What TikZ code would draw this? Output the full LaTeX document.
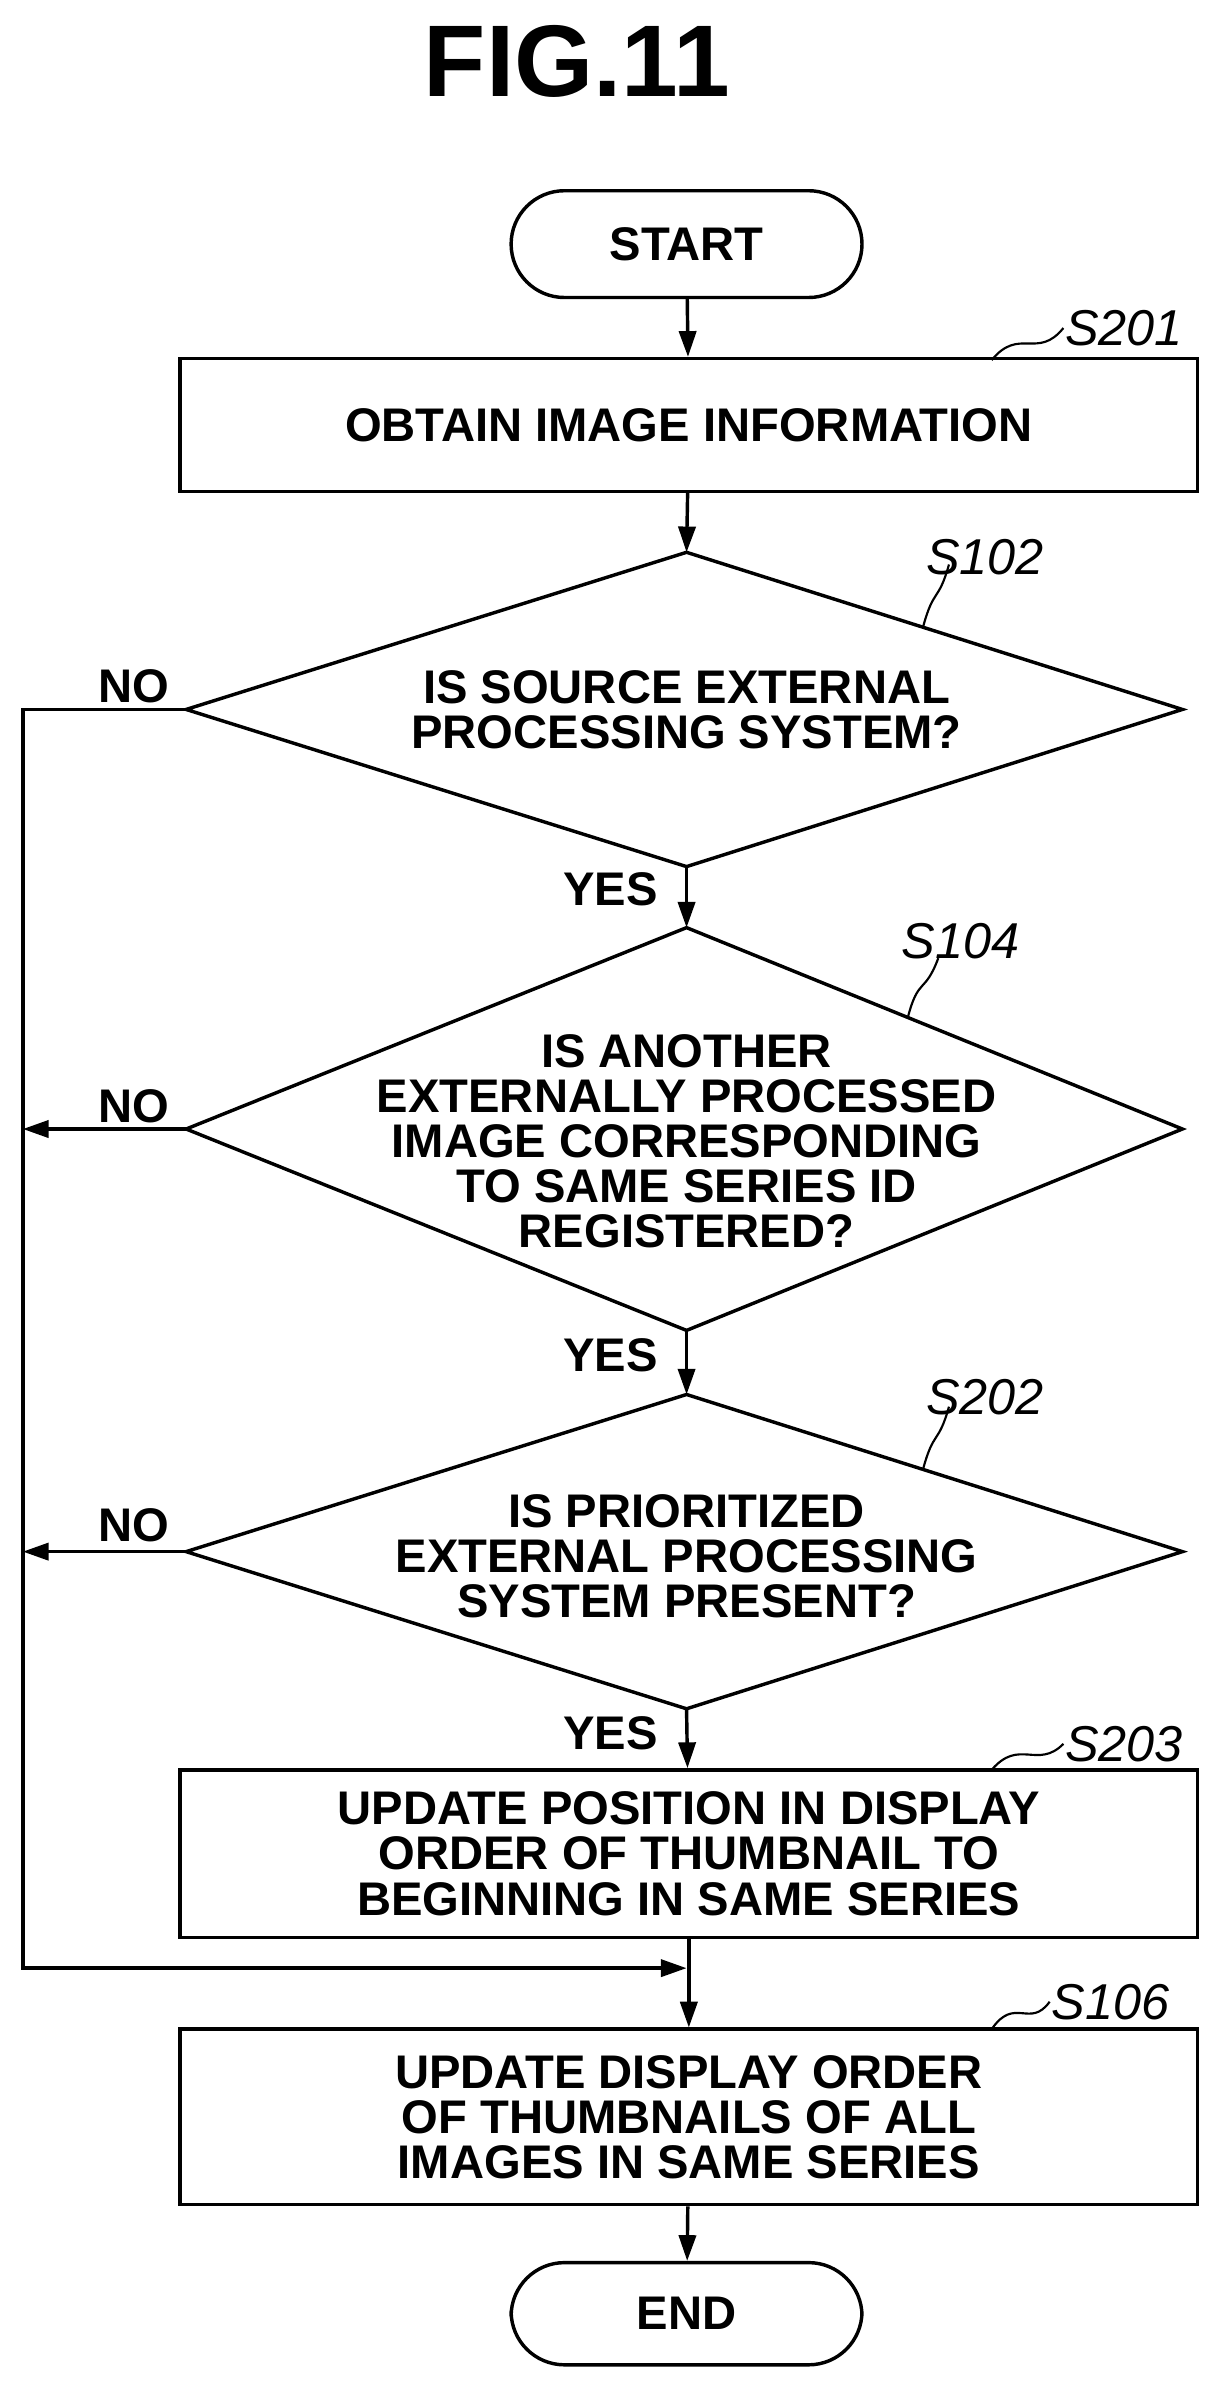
\documentclass[tikz,border=0pt]{standalone}
\usepackage{fontspec}
\setmainfont{Liberation Sans}
\usetikzlibrary{shapes.geometric,arrows.meta}
\begin{document}
\begin{tikzpicture}[x=0.05cm,y=-0.05cm,
  line width=3.2pt,
  txt/.style={font=\fontsize{44}{42}\selectfont\bfseries,align=center,inner sep=0},
  lab/.style={font=\fontsize{47}{44}\selectfont\itshape,inner sep=0},
  term/.style={draw,rounded corners=1.75cm,minimum width=11.5cm,txt},
  box/.style={draw,txt},
  arr/.style={-{Triangle[length=24pt,width=16pt]}},
  leader/.style={line width=2pt}]
\useasboundingbox (0,0) rectangle (800,1577);
\node[font=\fontsize{95}{100}\selectfont\bfseries,inner sep=0] (title) at (378,40) {FIG.11};
\node[term,minimum height=3.5cm] (start) at (450,160) {START};
\node[box,minimum width=33.35cm,minimum height=4.35cm] (s201) at (451.5,278.5) {OBTAIN IMAGE INFORMATION};
\coordinate (d1t) at (450,362); \coordinate (d1l) at (122,465); \coordinate (d1r) at (775,465); \coordinate (d1b) at (450,568);
\draw (d1t)--(d1r)--(d1b)--(d1l)--cycle;
\node[txt] (t1) at (450,465) {IS SOURCE EXTERNAL\\PROCESSING SYSTEM?};
\coordinate (d2t) at (450,608); \coordinate (d2l) at (122,740); \coordinate (d2r) at (775,740); \coordinate (d2b) at (450,872);
\draw (d2t)--(d2r)--(d2b)--(d2l)--cycle;
\node[txt] (t2) at (450,748) {IS ANOTHER\\EXTERNALLY PROCESSED\\IMAGE CORRESPONDING\\TO SAME SERIES ID\\REGISTERED?};
\coordinate (d3t) at (450,914); \coordinate (d3l) at (122,1017); \coordinate (d3r) at (775,1017); \coordinate (d3b) at (450,1120);
\draw (d3t)--(d3r)--(d3b)--(d3l)--cycle;
\node[txt] (t3) at (450,1020) {IS PRIORITIZED\\EXTERNAL PROCESSING\\SYSTEM PRESENT?};
\node[box,minimum width=33.35cm,minimum height=5.5cm] (s203) at (451.5,1215) {UPDATE POSITION IN DISPLAY\\ORDER OF THUMBNAIL TO\\BEGINNING IN SAME SERIES};
\node[box,minimum width=33.35cm,minimum height=5.75cm] (s106) at (451.5,1387.5) {UPDATE DISPLAY ORDER\\OF THUMBNAILS OF ALL\\IMAGES IN SAME SERIES};
\node[term,minimum height=3.35cm] (end) at (450,1516.5) {END};
\coordinate (join) at (450,1290);
\coordinate (c1) at (15,465); \coordinate (c2) at (15,740); \coordinate (c3) at (15,1017); \coordinate (c4) at (15,1290);
\draw[arr] (start) -- (s201);
\draw[arr] (s201) -- (d1t);
\draw[arr] (d1b) -- (d2t);
\draw[arr] (d2b) -- (d3t);
\draw[arr] (d3b) -- (s203);
\draw[arr] (s203) -- (s106);
\draw[arr] (s106) -- (end);
\draw[arr] (d1l) -- (c1) -- (c4) -- (join);
\draw[arr] (d2l) -- (c2);
\draw[arr] (d3l) -- (c3);
\node[txt] (n1) at (88,450) {NO};
\node[txt] (n2) at (88,725) {NO};
\node[txt] (n3) at (88,1000) {NO};
\node[txt] (y1) at (400,583) {YES};
\node[txt] (y2) at (400,888) {YES};
\node[txt] (y3) at (400,1136) {YES};
\coordinate (a1) at (650,236); \coordinate (b1) at (697,215);
\draw[leader] (a1) .. controls (668,214) and (680,236) .. (b1);
\node[lab,anchor=west] (l1) at (b1) {S201};
\coordinate (a2) at (605,411); \coordinate (b2) at (622,370);
\draw[leader] (a2) .. controls (612,385) and (615,395) .. (b2);
\node[lab,anchor=west] (l2) at (606,365) {S102};
\coordinate (a3) at (595,667); \coordinate (b3) at (615,628);
\draw[leader] (a3) .. controls (602,640) and (606,652) .. (b3);
\node[lab,anchor=west] (l3) at (590,617) {S104};
\coordinate (a4) at (605,963); \coordinate (b4) at (622,922);
\draw[leader] (a4) .. controls (612,937) and (615,947) .. (b4);
\node[lab,anchor=west] (l4) at (606,916) {S202};
\coordinate (a5) at (650,1160); \coordinate (b5) at (697,1143);
\draw[leader] (a5) .. controls (668,1139) and (680,1160) .. (b5);
\node[lab,anchor=west] (l5) at (b5) {S203};
\coordinate (a6) at (650,1330); \coordinate (b6) at (688,1312);
\draw[leader] (a6) .. controls (665,1308) and (675,1330) .. (b6);
\node[lab,anchor=west] (l6) at (b6) {S106};
\end{tikzpicture}
\end{document}
